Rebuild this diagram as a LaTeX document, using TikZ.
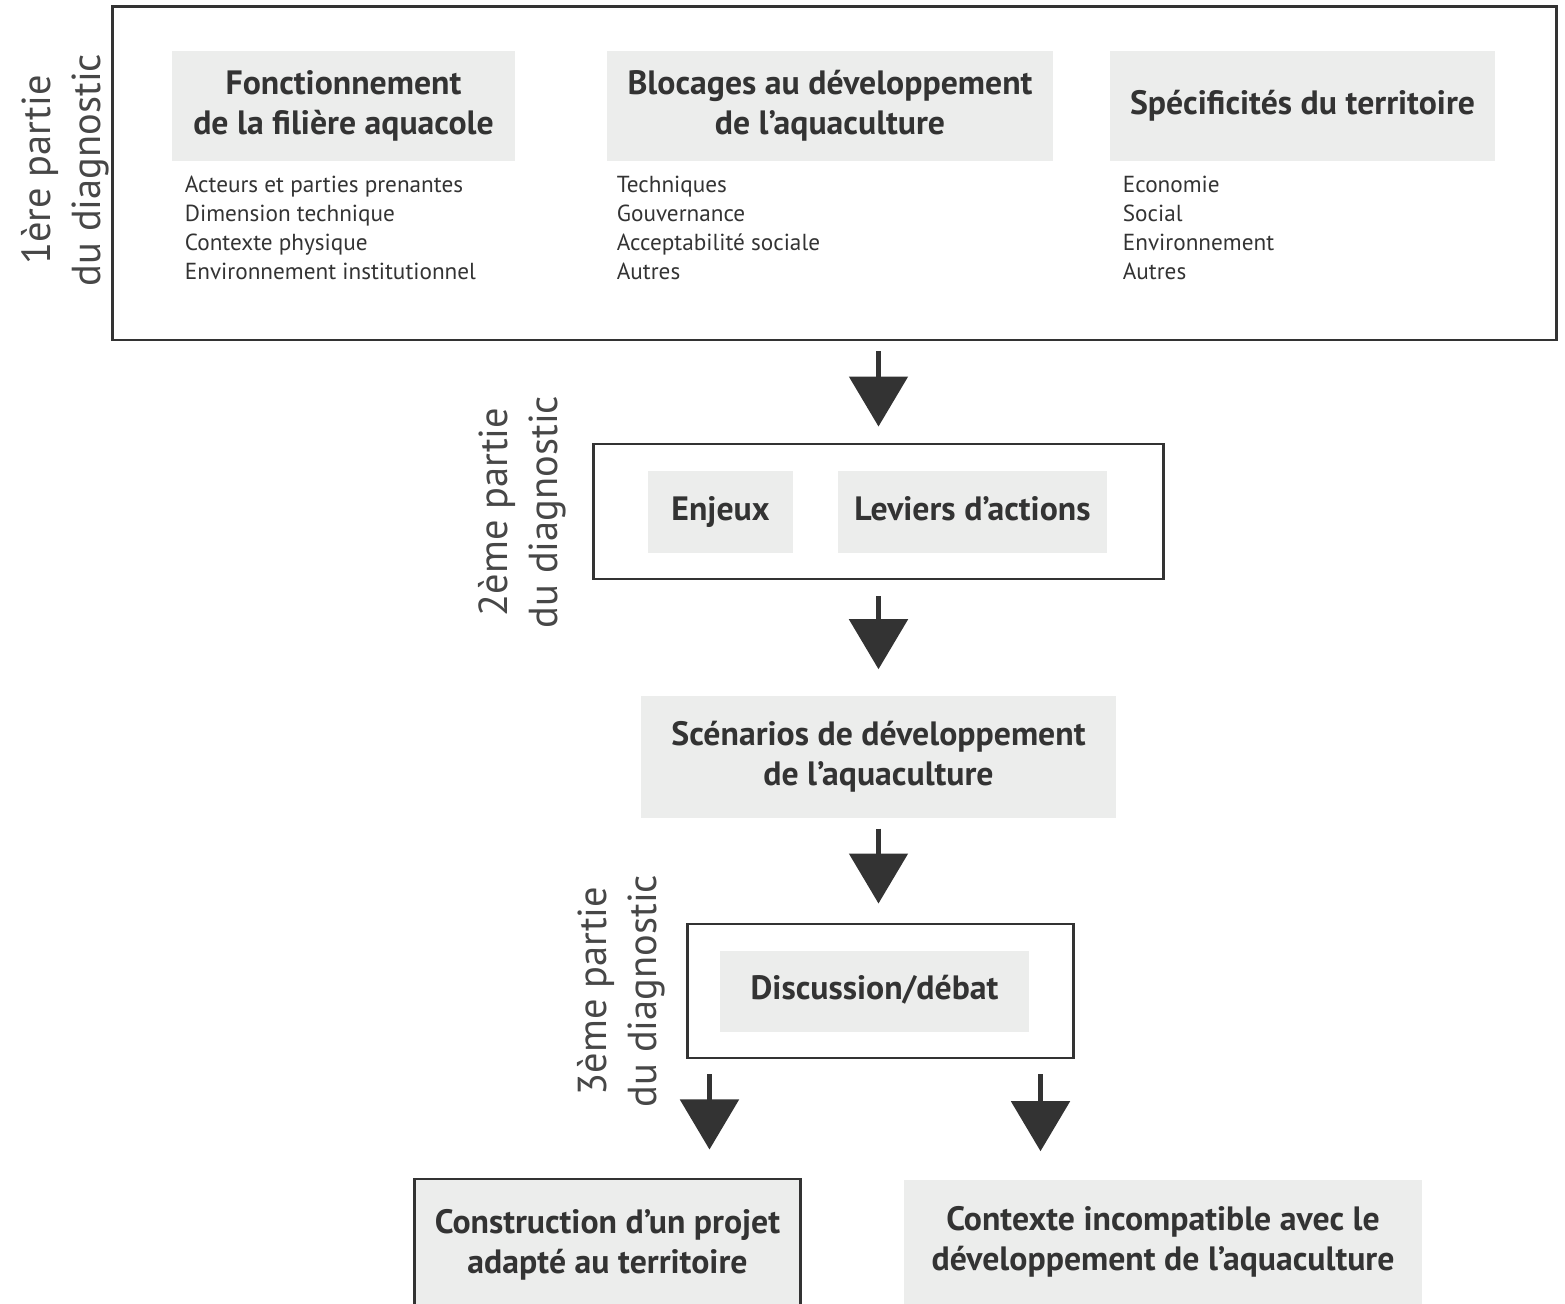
\documentclass[tikz,border=0pt]{standalone}
\usepackage{fontspec}
\setmainfont{PT Sans}
\usepackage{tikz}
\usetikzlibrary{arrows.meta,positioning,calc}
\definecolor{mygray}{RGB}{236,237,236}
\definecolor{mydark}{RGB}{51,51,51}

\begin{document}
\begin{tikzpicture}[
  x=0.01cm,
  y=-0.01cm,
  every node/.style={text=mydark},
  cadre/.style={
    draw=mydark,
    line width=0.8pt,
    inner sep=0pt
    },
  titre/.style={
    fill=mygray,
    align=center,
    inner sep=0pt,
    font=\fontsize{9.6}{11.4}\selectfont\bfseries
    },
  liste/.style={
    align=left,
    inner sep=0pt,
    anchor=north west,
    font=\fontsize{6.6}{8.25}\selectfont
    },
  partie/.style={
    rotate=90,
    align=center,
    inner sep=0pt,
    text=mydark!90,
    font=\fontsize{11.5}{14.2}\selectfont
    },
  fleche/.style={
    draw=mydark,
    line width=1.5pt,
    -{Triangle[width=5.8mm,length=5mm]}
    }
]

\useasboundingbox (0,0) rectangle (1565,1304);
\clip (0,0) rectangle (1565,1304);

% 1ere partie
\node[cadre, minimum width=14.43cm, minimum height=3.33cm] (diag1) at (834.5,173.5) {};
\node[partie] (partie1) at (65,170) {1ère partie\\du diagnostic};

\node[titre, minimum width=3.43cm, minimum height=1.10cm] (fonct) at (343.5,106)
  {Fonctionnement\\de la filière aquacole};
\node[titre, minimum width=4.46cm, minimum height=1.10cm] (bloc) at (830,106)
  {Blocages au développement\\de l’aquaculture};
\node[titre, minimum width=3.85cm, minimum height=1.10cm] (specif) at (1302.5,106)
  {\strut Spécificités du territoire};

\node[liste] (listefonct) at ($(fonct.south west)+(13,14)$)
  {Acteurs et parties prenantes\\Dimension technique\\Contexte physique\\Environnement institutionnel};
\node[liste] (listebloc) at ($(bloc.south west)+(10,14)$)
  {Techniques\\Gouvernance\\Acceptabilité sociale\\Autres};
\node[liste] (listespecif) at ($(specif.south west)+(13,14)$)
  {Economie\\Social\\Environnement\\Autres};

% 2eme partie
\node[cadre, minimum width=5.69cm, minimum height=1.35cm] (diag2) at (878.5,511.5) {};
\node[partie] (partie2) at (522,512) {2ème partie\\du diagnostic};
\node[titre, minimum width=1.45cm, minimum height=0.82cm] (enjeux) at (720.5,512) {\strut Enjeux};
\node[titre, minimum width=2.69cm, minimum height=0.82cm] (leviers) at (972.5,512) {\strut Leviers d’actions};

\node[titre, minimum width=4.75cm, minimum height=1.22cm] (scen) at (878.5,757)
  {Scénarios de développement\\de l’aquaculture};

% 3eme partie
\node[cadre, minimum width=3.85cm, minimum height=1.34cm] (diag3) at (880.5,991) {};
\node[partie] (partie3) at (621,991) {3ème partie\\du diagnostic};
\node[titre, minimum width=3.09cm, minimum height=0.81cm] (debat) at (874.5,991.5) {\strut Discussion/débat};

\node[titre, draw=mydark, line width=0.8pt, minimum width=3.85cm, minimum height=1.32cm] (projet) at (607.5,1245)
  {Construction d’un projet\\adapté au territoire};
\node[titre, minimum width=5.18cm, minimum height=1.24cm] (contexte) at (1163,1242)
  {Contexte incompatible avec le\\développement de l’aquaculture};

\coordinate (sortieG) at ($(diag3.south west)+(23,0)$);
\coordinate (sortieD) at ($(diag3.south east)+(-34,0)$);

% fleches
\draw[fleche, shorten <=0.1cm, shorten >=0.16cm] (diag1.south -| diag2.north) -- (diag2.north);
\draw[fleche, shorten <=0.16cm, shorten >=0.26cm] (diag2.south) -- (scen.north);
\draw[fleche, shorten <=0.1cm, shorten >=0.19cm] (scen.south) -- (scen.south |- diag3.north);
\draw[fleche, shorten <=0.15cm, shorten >=0.28cm] (sortieG) -- (sortieG |- projet.north);
\draw[fleche, shorten <=0.15cm, shorten >=0.28cm] (sortieD) -- (sortieD |- contexte.north);

\end{tikzpicture}
\end{document}
